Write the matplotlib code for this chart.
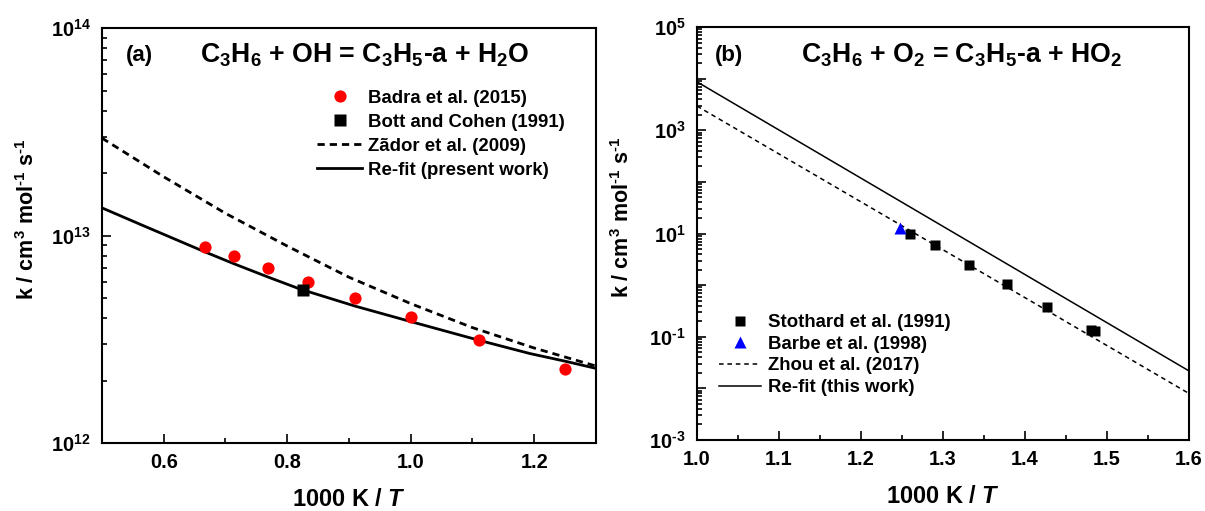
import numpy as np
import matplotlib
matplotlib.use("Agg")
import matplotlib.pyplot as plt
from matplotlib.ticker import LogLocator, NullFormatter, FuncFormatter, MultipleLocator

# --- panel (a): C3H6 + OH = C3H5-a + H2O ---
badra_x = [0.667, 0.714, 0.769, 0.833, 0.909, 1.0, 1.111, 1.25]
badra_k = [8.85e12, 7.95e12, 6.97e12, 6.0e12, 5.02e12, 4.06e12, 3.14e12, 2.27e12]
bott_x = [0.826]
bott_k = [5.45e12]
zador_x = [0.5, 0.6, 0.7, 0.8, 0.9, 1.0, 1.1, 1.2, 1.3]
zador_k = [2.95e13, 1.92e13, 1.28e13, 8.9e12, 6.3e12, 4.7e12, 3.6e12, 2.87e12, 2.35e12]
refit_a_x = [0.5, 0.572, 0.666, 0.714, 0.769, 0.821, 0.910, 1.0, 1.112, 1.193, 1.25, 1.3]
refit_a_k = [1.36e13, 1.10e13, 8.36e12, 7.31e12, 6.31e12, 5.52e12, 4.57e12, 3.85e12,
             3.12e12, 2.70e12, 2.48e12, 2.29e12]

# --- panel (b): C3H6 + O2 = C3H5-a + HO2 ---
stoth_x = [1.260, 1.290, 1.332, 1.378, 1.427, 1.480, 1.486]
stoth_k = [10.0, 5.96, 2.44, 1.03, 0.38, 0.134, 0.128]
barbe_x = [1.248]
barbe_k = [12.9]
zhou_x = [1.0, 1.6]
zhou_k = [2.95e3, 7.96e-3]
refit_b_x = [1.0, 1.6]
refit_b_k = [8.7e3, 2.18e-2]

plt.rcParams['font.family'] = 'Liberation Sans'
plt.rcParams['font.weight'] = 'bold'
plt.rcParams['mathtext.fontset'] = 'custom'
plt.rcParams['mathtext.rm'] = 'Liberation Sans:bold'
plt.rcParams['mathtext.bf'] = 'Liberation Sans:bold'
plt.rcParams['mathtext.sf'] = 'Liberation Sans:bold'
plt.rcParams['mathtext.it'] = 'Liberation Sans:italic:bold'

fig = plt.figure(figsize=(12.05, 5.11), dpi=100)
ax1 = fig.add_axes([0.0846, 0.133, 0.41, 0.812])
ax2 = fig.add_axes([0.5784, 0.139, 0.4083, 0.808])

HY = '\u2010'  # short hyphen for the exponents, as in the original
YLAB = r'k / cm$^3$ mol$^{%s1}$ s$^{%s1}$' % (HY, HY)
XLAB = r'1000 K / $\mathit{T}$'


def dec_fmt(only_odd=False):
    def f(v, pos):
        e = int(round(np.log10(v)))
        if only_odd and e % 2 == 0:
            return ''
        s = str(e).replace('-', HY)
        return r'10$^{%s}$' % s
    return FuncFormatter(f)


def style_axes(ax):
    for s in ax.spines.values():
        s.set_linewidth(1.5)
    ax.tick_params(which='both', direction='in', top=False, right=False,
                   labelsize=14.4, width=1.2)
    ax.tick_params(which='major', length=6.5)
    ax.tick_params(which='minor', length=3.3)
    ax.tick_params(axis='y', pad=8)
    ax.tick_params(axis='x', pad=7)
    ax.yaxis.set_minor_locator(LogLocator(base=10, subs=np.arange(2, 10)))
    ax.yaxis.set_minor_formatter(NullFormatter())
    ax.set_xlabel(XLAB, fontsize=17, fontweight='bold', labelpad=12)
    ax.set_ylabel(YLAB, fontsize=15.5, fontweight='bold')
    ax.yaxis.set_label_coords(-0.128, 0.54)


# panel (a)
ax1.set_yscale('log')
ax1.plot(zador_x, zador_k, color='black', lw=2.0, ls=(0, (2.6, 1.8)), label='Zãdor et al. (2009)')
ax1.plot(refit_a_x, refit_a_k, color='black', lw=2.0, label='Re-fit (present work)')
ax1.plot(badra_x, badra_k, 'o', color='#ff0000', ms=8.8, mec='none', label='Badra et al. (2015)', zorder=4)
ax1.plot(bott_x, bott_k, 's', color='black', ms=8.0, mec='none', label='Bott and Cohen (1991)', zorder=5)
ax1.set_xlim(0.5, 1.3)
ax1.set_ylim(1e12, 1e14)
ax1.xaxis.set_major_locator(MultipleLocator(0.2))
ax1.xaxis.set_minor_locator(MultipleLocator(0.1))
ax1.xaxis.set_major_formatter(FuncFormatter(lambda v, p: '%.1f' % v))
ax1.yaxis.set_major_locator(LogLocator(base=10, numticks=10))
ax1.yaxis.set_major_formatter(dec_fmt())
style_axes(ax1)
ax1.text(0.0486, 0.935, '(a)', transform=ax1.transAxes, fontsize=16, va='center', ha='left')
ax1.text(0.198, 0.935, r'C$_3$H$_6$ + OH = C$_3$H$_5$-a + H$_2$O', transform=ax1.transAxes,
         fontsize=19.2, va='center', ha='left')
h, l = ax1.get_legend_handles_labels()
order = [2, 3, 0, 1]
ax1.legend([h[i] for i in order], [l[i] for i in order], loc='upper left',
           bbox_to_anchor=(0.436, 0.851), frameon=False, fontsize=13.4, borderpad=0,
           handlelength=2.4, handletextpad=0.3, labelspacing=0.37, borderaxespad=0)

# panel (b)
ax2.set_yscale('log')
ax2.plot(zhou_x, zhou_k, color='black', lw=1.1, ls=(0, (3, 2.5)), label='Zhou et al. (2017)')
ax2.plot(refit_b_x, refit_b_k, color='black', lw=1.1, label='Re-fit (this work)')
ax2.plot(stoth_x, stoth_k, 's', color='black', ms=7.2, mec='none', label='Stothard et al. (1991)', zorder=4)
ax2.plot(barbe_x, barbe_k, '^', color='#0000ff', ms=8.8, mec='none', label='Barbe et al. (1998)', zorder=4)
ax2.set_xlim(1.0, 1.6)
ax2.set_ylim(1e-3, 1e5)
ax2.xaxis.set_major_locator(MultipleLocator(0.1))
ax2.xaxis.set_minor_locator(MultipleLocator(0.05))
ax2.xaxis.set_major_formatter(FuncFormatter(lambda v, p: '%.1f' % v))
ax2.yaxis.set_major_locator(LogLocator(base=10, numticks=20))
ax2.yaxis.set_major_formatter(dec_fmt(only_odd=True))
style_axes(ax2)
ax2.text(0.0366, 0.932, '(b)', transform=ax2.transAxes, fontsize=16, va='center', ha='left')
ax2.text(0.211, 0.932, r'C$_3$H$_6$ + O$_2$ = C$_3$H$_5$-a + HO$_2$', transform=ax2.transAxes,
         fontsize=19.2, va='center', ha='left')
h, l = ax2.get_legend_handles_labels()
order = [2, 3, 0, 1]
ax2.legend([h[i] for i in order], [l[i] for i in order], loc='upper left',
           bbox_to_anchor=(0.044, 0.305), frameon=False, fontsize=13.4, borderpad=0,
           handlelength=2.3, handletextpad=0.35, labelspacing=0.25, borderaxespad=0)

fig.savefig('out.png', dpi=100)
